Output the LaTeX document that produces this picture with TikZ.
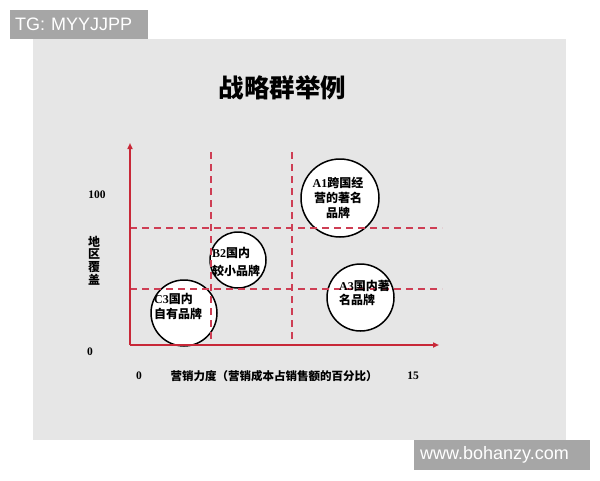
\documentclass[tikz,border=0pt]{standalone}
\usepackage{fontspec}
\usepackage{tikz}
\usetikzlibrary{arrows.meta}
\setmainfont{Liberation Serif}
\newfontfamily\cjk{Noto Sans CJK SC}
\newfontfamily\wmfont{Liberation Sans}
\definecolor{panelgray}{RGB}{230,230,230}
\definecolor{axisred}{RGB}{200,40,56}
\definecolor{gridred}{RGB}{206,62,84}
\definecolor{wmgray}{RGB}{166,166,166}
\newcommand\latn[1]{{\rmfamily\bfseries #1}}

\begin{document}
\begin{tikzpicture}[
		x=1pt, y=-1pt,
		every node/.style={inner sep=0pt, font=\cjk\bfseries\fontsize{12}{15}\selectfont},
		group/.style={circle, draw, line width=1.5pt, fill=white},
		grid line/.style={gridred, line width=1.3pt, dash pattern=on 7pt off 5pt},
		axis/.style={axisred, line width=1.5pt, -{Triangle[length=6pt, width=5pt]}},
		tick/.style={font=\rmfamily\bfseries\fontsize{11.5}{13}\selectfont},
		watermark/.style={fill=wmgray, text=white, anchor=north west, align=left, inner ysep=0pt, font=\wmfont\fontsize{18}{20}\selectfont}
	]
  \useasboundingbox (0, 0) rectangle (600, 480);
  \fill[panelgray] (33, 39) rectangle (566, 440);
  \node (tg) [watermark, inner xsep=5pt, text width=128pt, minimum height=29pt] at (10, 10) {TG: MYYJJPP};
  \node (site) [watermark, inner xsep=6pt, text width=164pt, minimum height=30pt] at (414, 440) {www.bohanzy.com};
  \node (title) [font=\cjk\bfseries\fontsize{25.5}{26}\selectfont] at (282.5, 87.5) {战略群举例};
  \node (A1) [group, minimum size=78pt] at (340, 198) {};
  \node (B2) [group, minimum size=56pt] at (238, 260) {};
  \node (C3) [group, minimum size=66pt] at (184, 313) {};
  \node (A3) [group, minimum size=67pt] at (360.5, 297.5) {};
  \coordinate (o) at (130, 345);
  \coordinate (y_top) at (130, 143);
  \coordinate (x_end) at (439, 345);
  \coordinate (v1_top) at (211, 152);
  \coordinate (v1_bot) at (211, 345);
  \coordinate (v2_top) at (292, 152);
  \coordinate (v2_bot) at (292, 345);
  \coordinate (h1_left) at (130, 228);
  \coordinate (h1_right) at (442, 228);
  \coordinate (h2_left) at (130, 289);
  \coordinate (h2_right) at (442, 289);
  \draw (v1_top) edge [grid line] (v1_bot);
  \draw (v2_top) edge [grid line] (v2_bot);
  \draw (h1_left) edge [grid line] (h1_right);
  \draw (h2_left) edge [grid line] (h2_right);
  \draw [axis] (o) -- (y_top);
  \draw [axis] (o) -- (x_end);
  \node (A1_label) [align=center] at (338, 198) {\latn{A1}跨国经\\营的著名\\品牌};
  \node (B2_label) [align=left, anchor=west, font=\cjk\bfseries\fontsize{12}{18}\selectfont] at (212, 262) {\latn{B2}国内\\较小品牌};
  \node (C3_label) [align=left, anchor=west] at (154, 306) {\latn{C3}国内\\自有品牌};
  \node (A3_label) [align=left, anchor=west, font=\cjk\bfseries\fontsize{12}{14}\selectfont] at (339, 293) {\latn{A3}国内著\\名品牌};
  \node (y100) [tick] at (97, 195) {100};
  \node (y0) [tick] at (90, 352) {0};
  \node (y_label) [align=center, font=\cjk\bfseries\fontsize{12}{12.8}\selectfont] at (94, 260.5) {地\\区\\覆\\盖};
  \node (x0) [tick] at (139, 376) {0};
  \node (x_label) [font=\cjk\bfseries\fontsize{11.5}{13}\selectfont] at (274, 376) {营销力度（营销成本占销售额的百分比）};
  \node (x15) [tick] at (413, 376) {15};
\end{tikzpicture}
\end{document}
